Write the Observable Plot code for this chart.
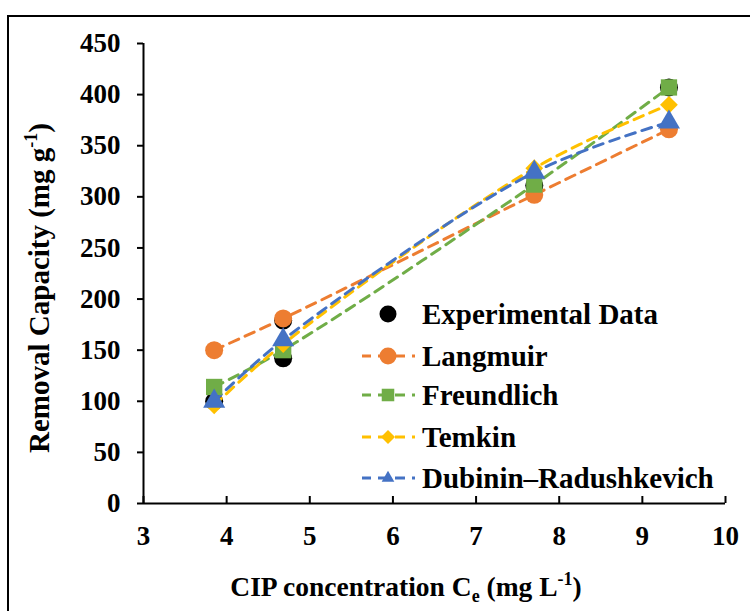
<!DOCTYPE html>
<html>
<head>
<meta charset="utf-8">
<script src="https://cdn.jsdelivr.net/npm/d3@7"></script>
<script src="https://cdn.jsdelivr.net/npm/@observablehq/plot@0.6"></script>
<style>
  html, body { margin: 0; padding: 0; background: #fff; }
  #wrap { position: relative; width: 750px; height: 611px; overflow: hidden; }
  #frame { position: absolute; left: 7px; top: 15px; width: 760px; height: 620px; border: 2px solid #000; box-sizing: border-box; pointer-events: none; }
</style>
</head>
<body>
<div id="wrap"><div id="frame"></div></div>
<script>
// Data
const xVals = [3.85, 4.68, 7.7, 9.32];
const expX = [3.85, 4.68, 4.68, 7.7, 9.32];
const expY = [100, 142, 179, 311, 407];
const langmuir = [150, 181, 302, 366];
const freundlich = [114, 150, 312, 407];
const temkin = [96, 156, 328, 390];
const dubinin = [100, 160, 324, 373];
const xTicks = [3, 4, 5, 6, 7, 8, 9, 10];
const yTicks = [0, 50, 100, 150, 200, 250, 300, 350, 400, 450];

const series = [
  {name: "Langmuir", values: langmuir, color: "#ED7D31", symbol: "circle", r: 9},
  {name: "Freundlich", values: freundlich, color: "#70AD47", symbol: "square", r: 9.2},
  {name: "Temkin", values: temkin, color: "#FFC000", symbol: "diamond2", r: 8},
  {name: "Dubinin\u2013Radushkevich", values: dubinin, color: "#4472C4", symbol: "triangle", r: 8.2}
];

const expData = expX.map((x, i) => ({x, y: expY[i]}));
const seriesData = series.map(s => s.values.map((v, i) => ({x: xVals[i], y: v})));

const font = "'Liberation Serif', 'Times New Roman', serif";

const marks = [
  Plot.ruleY([0], {stroke: "#000", strokeWidth: 2}),
  Plot.ruleX([3], {stroke: "#000", strokeWidth: 2}),
  Plot.axisY({ticks: yTicks, tickSize: 6, tickPadding: 17, fontSize: 27, fontWeight: "bold", tickFormat: d => d, strokeWidth: 2, label: null}),
  Plot.axisX({ticks: xTicks, tickSize: -7, tickPadding: 29, fontSize: 27, fontWeight: "bold", tickFormat: d => d, strokeWidth: 2, label: null}),
  Plot.dot(expData, {x: "x", y: "y", r: 9, fill: "#000", symbol: "circle"})
];
series.forEach((s, k) => {
  marks.push(Plot.line(seriesData[k], {x: "x", y: "y", stroke: s.color, strokeWidth: 3, strokeDasharray: "10,7", curve: "catmull-rom"}));
});
series.forEach((s, k) => {
  marks.push(Plot.dot(seriesData[k], {x: "x", y: "y", r: s.r, fill: s.color, symbol: s.symbol}));
});

const chart = Plot.plot({
  width: 750,
  height: 611,
  marginLeft: 143,
  marginRight: 25,
  marginTop: 43,
  marginBottom: 108,
  style: {fontFamily: font, color: "#000", background: "transparent", overflow: "visible"},
  x: {domain: [3, 10], label: null},
  y: {domain: [0, 450], label: null},
  marks
});
chart.style.position = "absolute";
chart.style.left = "0px";
chart.style.top = "0px";
document.getElementById("wrap").insertBefore(chart, document.getElementById("frame"));

const svg = d3.select(chart);
// Axis titles
const yt = svg.append("text")
  .attr("transform", "translate(49,288) rotate(-90)")
  .attr("text-anchor", "middle")
  .attr("font-family", font).attr("font-weight", "bold").attr("font-size", 29).attr("fill", "#000");
yt.append("tspan").text("Removal Capacity (mg g");
yt.append("tspan").attr("font-size", 18).attr("dy", -12).text("-1");
yt.append("tspan").attr("dy", 12).text(")");

const xt = svg.append("text")
  .attr("x", 406).attr("y", 596)
  .attr("text-anchor", "middle")
  .attr("font-family", font).attr("font-weight", "bold").attr("font-size", 27.5).attr("fill", "#000");
xt.append("tspan").text("CIP concentration C");
xt.append("tspan").attr("font-size", 18).attr("dy", 6).text("e");
xt.append("tspan").attr("dy", -6).text(" (mg L");
xt.append("tspan").attr("font-size", 18).attr("dy", -11).text("-1");
xt.append("tspan").attr("dy", 11).text(")");

// Legend
const legendItems = [{name: "Experimental Data", color: "#000", symbol: d3.symbolCircle, size: Math.PI * 72, line: false}]
  .concat(series.map(s => ({name: s.name, color: s.color,
    symbol: {circle: d3.symbolCircle, square: d3.symbolSquare2, diamond2: d3.symbolDiamond2, triangle: d3.symbolTriangle2}[s.symbol],
    size: {circle: Math.PI * 72, square: 200, diamond2: 125, triangle: 115}[s.symbol], line: true})));
const rowsY = [314, 356, 395, 437, 478];
const lg = svg.append("g");
legendItems.forEach((it, i) => {
  const g = lg.append("g").attr("transform", `translate(388,${rowsY[i]})`);
  if (it.line) {
    g.append("line").attr("x1", -26).attr("x2", 27).attr("y1", 0).attr("y2", 0)
      .attr("stroke", it.color).attr("stroke-width", 3).attr("stroke-dasharray", "10,7").attr("stroke-dashoffset", 1);
  }
  g.append("path").attr("d", d3.symbol(it.symbol, it.size)()).attr("fill", it.color);
  g.append("text").attr("x", 34).attr("y", 0).attr("dy", "0.33em")
    .attr("text-anchor", "start")
    .attr("font-family", font).attr("font-weight", "bold").attr("font-size", 29).attr("fill", "#000")
    .text(it.name);
});
</script>
</body>
</html>
